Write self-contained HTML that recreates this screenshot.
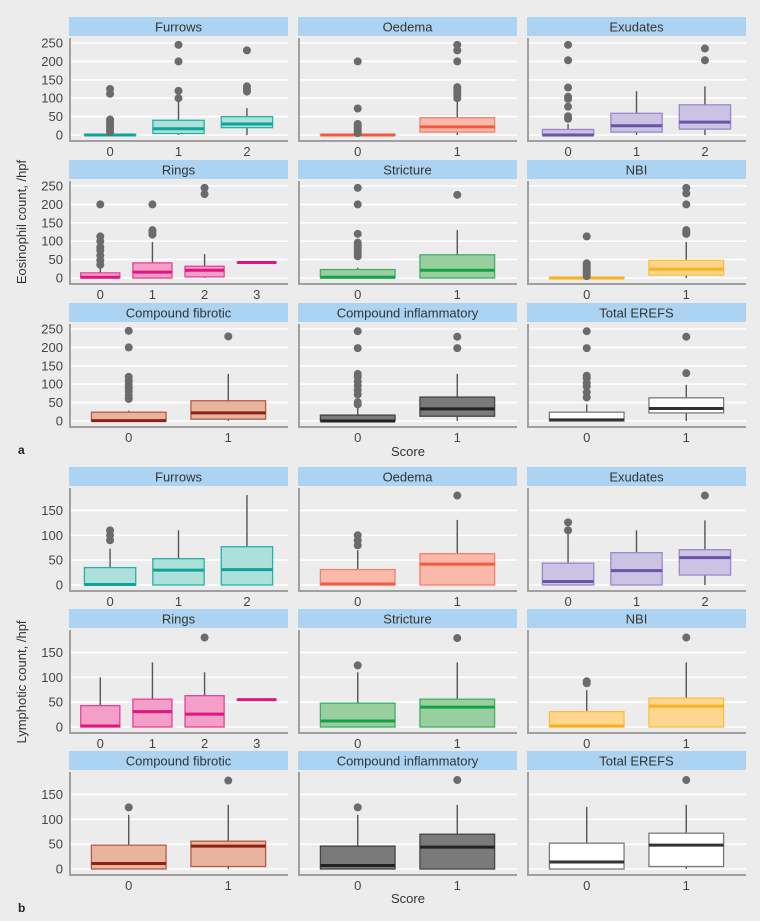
<!DOCTYPE html>
<html><head><meta charset="utf-8">
<style>
html,body{margin:0;padding:0;background:#ececec;}
svg{display:block;font-family:"Liberation Sans",sans-serif;}
</style></head>
<body>
<svg id="fig" width="760" height="921" viewBox="0 0 760 921" xmlns="http://www.w3.org/2000/svg">
<rect x="0" y="0" width="760" height="921" fill="#ececec"/>
</svg>
<script>
// ---- data ----
const panelTitles = ["Furrows","Oedema","Exudates","Rings","Stricture","NBI","Compound fibrotic","Compound inflammatory","Total EREFS"];
const panelCategories = [["0","1","2"],["0","1"],["0","1","2"],["0","1","2","3"],["0","1"],["0","1"],["0","1"],["0","1"],["0","1"]];
// box stats per category: [lowerWhisker, q1, median, q3, upperWhisker]
const eosBoxes = [
  [[0,0,0,2,2],[0,4,17,40,95],[0,20,30,50,73]],
  [[0,0,0,2,2],[0,8,22,47,95]],
  [[0,0,0,15,30],[0,8,25,59,119],[0,16,35,82,132]],
  [[0,0,2,14,30],[0,0,16,41,98],[0,3,21,32,65],[42,42,42,42,42]],
  [[0,0,2,23,28],[0,0,21,63,130]],
  [[0,0,0,2,2],[0,8,24,48,98]],
  [[0,0,1,24,28],[0,5,22,55,128]],
  [[0,0,0,16,40],[0,13,33,65,128]],
  [[0,0,3,24,45],[0,22,34,63,98]]
];
const eosOutliers = [
  [[8,15,22,28,33,38,42,112,125],[100,120,200,245],[118,125,132,230]],
  [[5,10,15,20,25,30,72,200],[100,108,115,122,130,200,230,245]],
  [[44,51,77,98,104,129,203,245],[],[203,235]],
  [[36,48,61,75,84,100,113,200],[118,125,130,200],[228,245],[]],
  [[59,66,75,82,89,96,120,200,245],[226]],
  [[5,10,15,20,25,30,35,40,113],[120,125,130,200,230,245]],
  [[60,70,80,90,100,110,120,200,245],[230]],
  [[45,51,72,84,96,107,120,128,198,244],[198,229]],
  [[64,78,94,103,116,123,198,244],[130,229]]
];
const lymBoxes = [
  [[0,0,1,35,73],[0,0,30,53,110],[0,0,31,77,181]],
  [[0,0,2,31,70],[0,0,42,63,131]],
  [[0,0,7,44,105],[0,0,29,65,110],[0,20,55,71,130]],
  [[0,0,2,43,100],[0,0,31,56,130],[0,0,26,63,110],[55,55,55,55,55]],
  [[0,0,12,48,110],[0,0,40,56,130]],
  [[0,0,2,31,74],[0,0,42,58,130]],
  [[0,0,11,48,109],[0,5,46,56,129]],
  [[0,0,7,46,109],[0,0,44,70,129]],
  [[0,0,14,52,125],[0,5,48,72,129]]
];
const lymOutliers = [
  [[90,100,110],[],[]],
  [[80,90,100],[180]],
  [[110,126],[],[180]],
  [[],[],[180],[]],
  [[124],[179]],
  [[88,92],[180]],
  [[124],[178]],
  [[124],[179]],
  [[],[179]]
];
const eosTicks = [0,50,100,150,200,250];
const lymTicks = [0,50,100,150];
const panelColors = [
  ["#26b3a3","#ade0da","#0fa596"],["#f0806e","#fbb9aa","#ef5a40"],["#9a87c9","#cbc3e3","#6a55a8"],
  ["#e8409a","#f49fc8","#e0157f"],["#3fb066","#99cf9f","#17a04a"],["#fcbe3c","#fdd78f","#f7b11c"],
  ["#b55a45","#e9b49e","#8c2216"],["#444444","#7a7a7a","#222222"],["#7a7a7a","#ffffff","#333333"]
];

// ---- layout ----
const NS = "http://www.w3.org/2000/svg";
const svg = document.getElementById("fig");
const colX = [69,298,527], panelW = 219;
function mk(tag, attrs, parent){
  const e = document.createElementNS(NS, tag);
  for (const k in attrs) e.setAttribute(k, attrs[k]);
  (parent||svg).appendChild(e);
  return e;
}
function txt(x,y,s,size,anchor,fill,parent){
  const t = mk("text",{x:x,y:y,"font-size":size,"text-anchor":anchor,fill:fill},parent);
  t.textContent = s;
  return t;
}

function drawPart(part, rowTops, boxes, outliers, ticks, scale){
  for (let p=0;p<9;p++){
    const r = Math.floor(p/3), c = p%3;
    const S = rowTops[r], X = colX[c];
    const g = mk("g",{});
    
    
    // strip
    const strip = mk("rect",{x:X,y:S,width:panelW,height:19,fill:"#acd4f2"},g);
    
    
    const st = txt(X+panelW/2,S+14.5,panelTitles[p],13,"middle","#333",g);
    
    
    const zeroY = S+118;
    const yv = v => zeroY - v*scale;
    // grid
    ticks.forEach(t=>{
      const gl = mk("line",{x1:X,x2:X+panelW,y1:yv(t),y2:yv(t),stroke:"#ffffff","stroke-width":1.6},g);
      
      
      if (c===0){
        const tl = txt(X-6,yv(t)+4.5,String(t),13,"end","#444",g);
        
        
      }
    });
    // axes
    const ax = mk("path",{d:`M${X+1},${S+21} V${S+124} H${X+panelW}`,fill:"none",stroke:"#a0a0a0","stroke-width":2},g);
    
    
    const cats = panelCategories[p], n = cats.length;
    const step = panelW/(n+0.2);
    const xc = i => X + (0.6+i)*step;
    const bw = 0.75*step;
    const [stroke, fill, med] = panelColors[p];
    cats.forEach((cat,i)=>{
      const b = boxes[p][i];
      const cx = xc(i);
      const wl = mk("line",{x1:cx,x2:cx,y1:yv(b[0]),y2:yv(b[4]),stroke:"#555","stroke-width":1.4},g);
      
      
      const h = Math.max(yv(b[1])-yv(b[3]),0.01);
      const bx = mk("rect",{x:cx-bw/2,y:yv(b[3]),width:bw,height:h,fill:fill,stroke:stroke,"stroke-width":1.3},g);
      
      
      const ml = mk("line",{x1:cx-bw/2,x2:cx+bw/2,y1:yv(b[2]),y2:yv(b[2]),stroke:med,"stroke-width":3},g);
      
      
      outliers[p][i].forEach(v=>{
        const d = mk("circle",{cx:cx,cy:yv(v),r:4,fill:"#6b6b6b"},g);
        
        
      });
      const xl = txt(cx,S+139,cat,13,"middle","#444",g);
      
      
    });
  }
}
drawPart("eosinophil",[17,160,303],eosBoxes,eosOutliers,eosTicks,0.368);
drawPart("lymphocyte",[467,609,751],lymBoxes,lymOutliers,lymTicks,0.497);

// titles
let t;
t = txt(0,0,"Eosinophil count, /hpf",13,"middle","#333");
t.setAttribute("transform","translate(26,222) rotate(-90)");


t = txt(0,0,"Lymphotic count, /hpf",13,"middle","#333");
t.setAttribute("transform","translate(26,682) rotate(-90)");


t = txt(408,456,"Score",13,"middle","#333");


t = txt(408,903,"Score",13,"middle","#333");


t = txt(18,454,"a",12,"start","#222");
t.setAttribute("font-weight","bold");


t = txt(18,912,"b",12,"start","#222");
t.setAttribute("font-weight","bold");


</script>
</body></html>
